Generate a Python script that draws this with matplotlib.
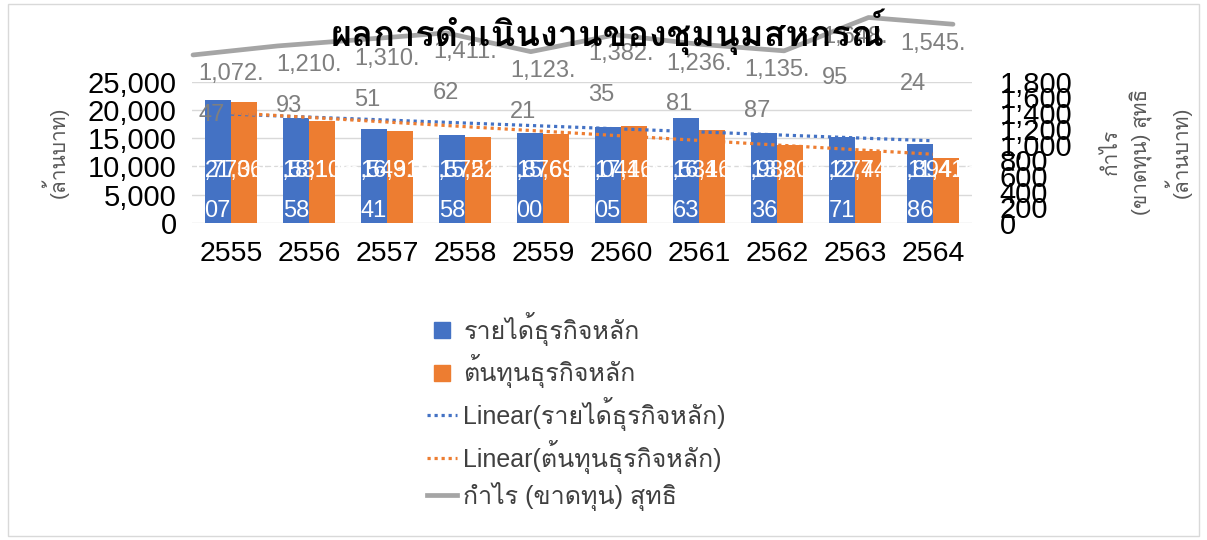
import matplotlib
matplotlib.use('Agg')
import matplotlib.pyplot as plt
import numpy as np
from matplotlib import font_manager, ft2font
from matplotlib.lines import Line2D
from matplotlib.patches import Rectangle

# หาฟอนต์ที่มีอักษรไทย
thai_fonts = []
for f in font_manager.fontManager.ttflist:
    try:
        cm = ft2font.FT2Font(f.fname).get_charmap()
    except Exception:
        continue
    if 0x0E01 in cm and f.name not in thai_fonts:
        thai_fonts.append(f.name)
plt.rcParams['font.family'] = ['Liberation Sans'] + thai_fonts + ['DejaVu Sans']

# ข้อมูล
years = ['2555', '2556', '2557', '2558', '2559', '2560', '2561', '2562', '2563', '2564']
revenue = [21770.45, 18531.54, 16549.85, 15575.37, 15876.67, 17044.59, 18531.78, 15982.89, 15274.78, 13894.60]
cost = [21363.07, 18106.58, 16319.41, 15221.58, 15699.00, 17168.05, 16460.63, 13805.36, 12743.71, 11416.86]
profit = [1072.47, 1210.93, 1310.51, 1411.62, 1123.21, 1382.35, 1236.81, 1135.87, 1648.95, 1545.24]

blue = '#4472c4'
orange = '#ed7d31'
gray = '#a5a5a5'
dots = (0, (1, 1.2))

W, H = 1207, 540
fig = plt.figure(figsize=(W / 100, H / 100), dpi=100)
fig.patches.append(Rectangle((8 / W, 4 / H), 1191 / W, 532 / H, transform=fig.transFigure,
                             fill=False, edgecolor='#d9d9d9', lw=1))

pos = [192 / W, 1 - 223 / H, 780 / W, 141.3 / H]
ax = fig.add_axes(pos)
x = np.arange(len(years))
bw = 0.333
b1 = ax.bar(x - bw / 2, revenue, bw, color=blue, zorder=2)
b2 = ax.bar(x + bw / 2, cost, bw, color=orange, zorder=2)

# เส้นแนวโน้ม
for vals, c in [(revenue, blue), (cost, orange)]:
    k, b = np.polyfit(x, vals, 1)
    ax.plot(x, k * x + b, color=c, lw=2.3, ls=dots, zorder=4)

# ป้ายในแท่ง
for bars, vals in [(b1, revenue), (b2, cost)]:
    for r, v in zip(bars, vals):
        a, d = f'{v:,.2f}'.split('.')
        ax.annotate(a + '.\n' + d, (r.get_x() + r.get_width() / 2, 0), xytext=(0, 1),
                    textcoords='offset points', ha='center', va='bottom',
                    multialignment='left', color='white', fontsize=17,
                    linespacing=2.05, zorder=5)

ax.set_xlim(-0.5, 9.5)
ax.set_ylim(0, 25000)
ax.set_yticks(range(0, 25001, 5000))
ax.set_yticklabels([f'{v:,}' for v in range(0, 25001, 5000)], fontsize=21)
ax.set_xticks(x)
ax.set_xticklabels(years, fontsize=20.5)
ax.tick_params(length=0)
ax.tick_params(axis='y', pad=11)
ax.tick_params(axis='x', pad=13)
ax.grid(axis='y', color='#d9d9d9', lw=1, zorder=0)
ax.set_axisbelow(True)
for s in ax.spines.values():
    s.set_visible(False)

ax2 = ax.twinx()
ax2.set_ylim(0, 1800)
ax2.set_yticks(range(0, 1801, 200))
ax2.set_yticklabels([f'{v:,}' for v in range(0, 1801, 200)], fontsize=21)
ax2.tick_params(length=0, pad=20)
for s in ax2.spines.values():
    s.set_visible(False)

# เส้นกำไร (ขาดทุน) สุทธิ
ylim_p = (-1513, 661)
axl = fig.add_axes(pos)
axl.set_xlim(-0.012, 9.225)
axl.set_ylim(*ylim_p)
axl.axis('off')
axl.plot(x, profit, color=gray, lw=3.4, clip_on=False, solid_capstyle='round')

axp = fig.add_axes(pos)
axp.set_xlim(-0.5, 9.5)
axp.set_ylim(*ylim_p)
axp.axis('off')
for i, v in enumerate(profit):
    a, d = f'{v:,.2f}'.split('.')
    axp.annotate(a + '.\n' + d, (i, v), xytext=(0, -6), textcoords='offset points',
                 ha='center', va='top', multialignment='left', color='#7f7f7f',
                 fontsize=17, linespacing=2.1, annotation_clip=False)

fig.text(55 / W, 1 - 152 / H, '(ล้านบาท)', rotation=90, ha='center', va='center',
         fontsize=15, color='#595959')
fig.text(1147 / W, 1 - 152 / H, 'กำไร\n(ขาดทุน) สุทธิ\n(ล้านบาท)', rotation=90,
         ha='center', va='center', fontsize=15, color='#595959', linespacing=1.5)

fig.text(608 / W, 1 - 32 / H, 'ผลการดำเนินงานของชุมนุมสหกรณ์', ha='center', va='center',
         fontsize=26, fontweight='bold', color='black')

handles = [Line2D([], [], color=blue, marker='s', ls='none', ms=12),
           Line2D([], [], color=orange, marker='s', ls='none', ms=12),
           Line2D([], [], color=blue, lw=2.3, ls=dots),
           Line2D([], [], color=orange, lw=2.3, ls=dots),
           Line2D([], [], color=gray, lw=3.4)]
labels = ['รายได้ธุรกิจหลัก', 'ต้นทุนธุรกิจหลัก', 'Linear(รายได้ธุรกิจหลัก)',
          'Linear(ต้นทุนธุรกิจหลัก)', 'กำไร (ขาดทุน) สุทธิ']
leg = fig.legend(handles, labels, loc='upper left', bbox_to_anchor=(427 / W, 1 - 312 / H),
                 frameon=False, fontsize=18, handlelength=1.2, handleheight=0.7,
                 handletextpad=0.25, labelspacing=0.34, borderpad=0, borderaxespad=0)
for t in leg.get_texts():
    t.set_color('#404040')

fig.savefig('out.png', dpi=100)
